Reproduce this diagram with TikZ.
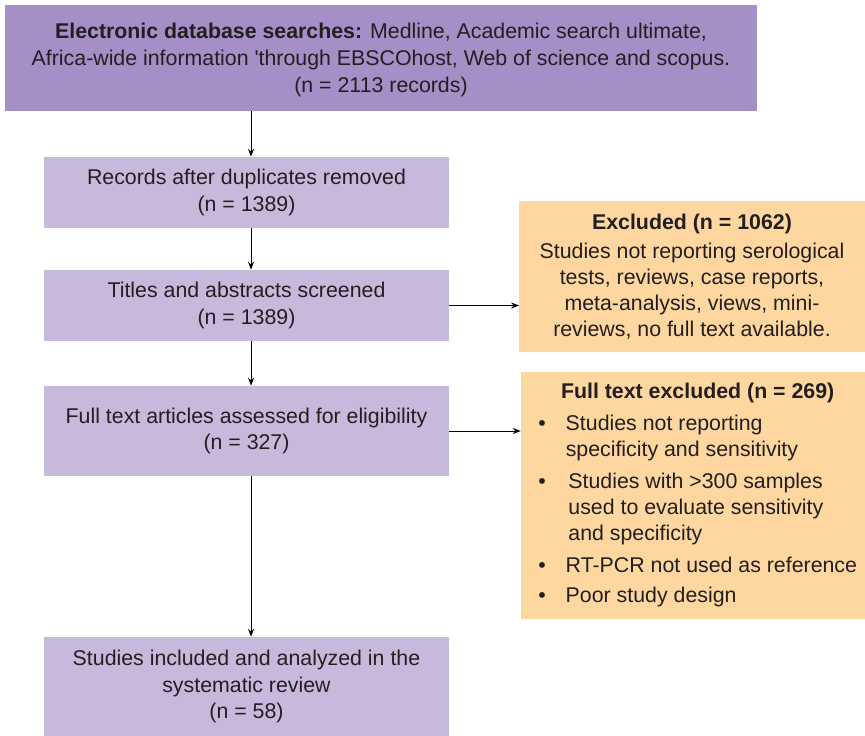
\documentclass[tikz,border=0pt]{standalone}
\usepackage{fontspec}
\setmainfont{Liberation Sans}
\usetikzlibrary{arrows.meta}
\definecolor{topfill}{RGB}{166,142,198}
\definecolor{stepfill}{RGB}{199,185,219}
\definecolor{exfill}{RGB}{253,214,160}
\definecolor{ink}{RGB}{35,31,32}
\tikzset{
  box/.style={inner sep=0pt, align=center, text=ink,
    font=\fontsize{16}{20}\selectfont},
  topbox/.style={box, fill=topfill, minimum width=564pt, minimum height=79.5pt},
  stepbox/.style={box, fill=stepfill, minimum width=303.75pt},
  exbox/.style={box, fill=exfill, minimum width=259pt},
  flow/.style={-{Stealth[length=6pt,width=4.5pt]}, line width=0.7pt}
}
\begin{document}
\begin{tikzpicture}[x=0.75pt, y=-0.75pt]
\useasboundingbox (0,0) rectangle (865,736);

\node [topbox, font=\fontsize{16}{20.25}\selectfont] (search) at (381, 58) {\rule{0pt}{15pt}\textbf{Electronic database searches:} Medline, Academic search ultimate,\\
Africa-wide information \textquotesingle through EBSCOhost, Web of science and scopus.\\
(n = 2113 records)};
\node [stepbox, minimum height=53.25pt] (dedup) at (246.5, 192.5) {Records after duplicates removed\\(n = 1389)};
\node [stepbox, minimum height=53.25pt] (screen) at (246.5, 305.5) {Titles and abstracts screened\\(n = 1389)};
\node [stepbox, minimum height=67.5pt] (full) at (246.5, 431) {Full text articles assessed for eligibility\\(n = 327)};
\node [stepbox, minimum height=74.25pt] (incl) at (246.5, 686.5) {Studies included and analyzed in the\\systematic review\\(n = 58)};

\node [exbox, minimum height=113.25pt, font=\fontsize{16}{19.5}\selectfont] (excl) at (692, 276.5) {\textbf{Excluded (n = 1062)}\\[2pt]
Studies not reporting serological\\
tests, reviews, case reports,\\
meta-analysis, views, mini-\\
reviews, no full text available.};
\node [exbox, minimum width=258pt, minimum height=185.25pt, font=\fontsize{16}{19.5}\selectfont] (ftexcl) at (693, 495.5) {%
\hspace{7pt}\begin{tabular}{@{}l@{\hspace{15pt}}l@{}}
\multicolumn{2}{c}{\textbf{Full text excluded (n = 269)}}\\[4.5pt]
\textbullet & Studies not reporting\\
 & specificity and sensitivity\\[4.5pt]
\textbullet & \hspace{2pt}Studies with >300 samples\\
 & \hspace{2pt}used to evaluate sensitivity\\
 & \hspace{2pt}and specificity\\[4.5pt]
\textbullet & RT-PCR not used as reference\\[3pt]
\textbullet & Poor study design
\end{tabular}};

\draw [flow] ([xshift=3.4pt]search.south -| dedup.north) -- ([xshift=3.4pt]dedup.north);
\draw [flow] ([xshift=3.4pt]dedup.south) -- ([xshift=3.4pt]screen.north);
\draw [flow] ([xshift=3.4pt]screen.south) -- ([xshift=3.4pt]full.north);
\draw [flow] ([xshift=3.4pt]full.south) -- ([xshift=3.4pt]incl.north);
\draw [flow] (screen.east) -- (screen.east -| excl.west);
\draw [flow] (full.east) -- (full.east -| ftexcl.west);
\end{tikzpicture}
\end{document}
